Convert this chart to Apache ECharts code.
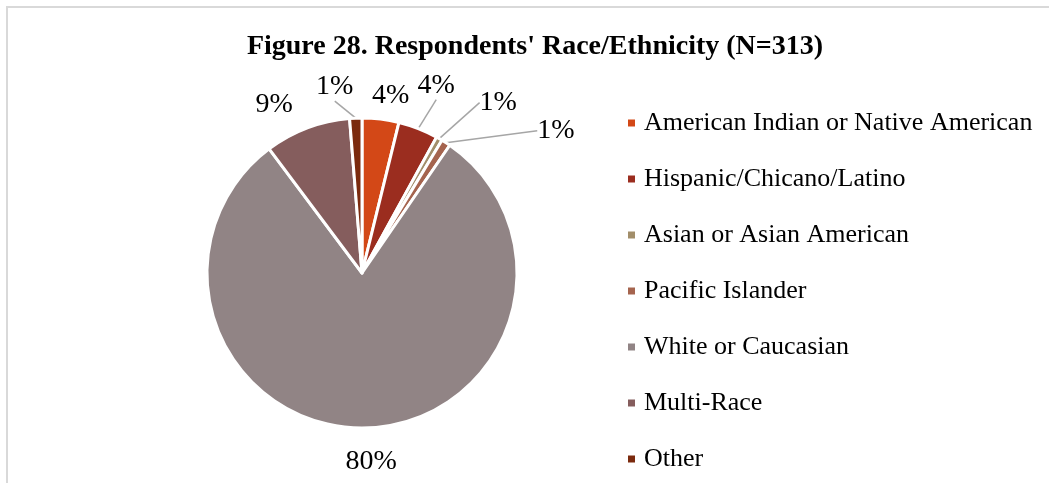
<!DOCTYPE html>
<html>
<head>
<meta charset="utf-8">
<script src="https://cdn.jsdelivr.net/npm/echarts@6/dist/echarts.min.js"></script>
<style>
html,body{margin:0;padding:0;background:#fff;}
#frame{position:absolute;left:6px;top:6px;width:1100px;height:600px;border-left:2px solid #d9d9d9;border-top:2px solid #d9d9d9;}
#chart{position:absolute;left:0;top:0;width:1049px;height:483px;}
</style>
</head>
<body>
<div id="frame"></div>
<div id="chart"></div>
<script>
const titleText = "Figure 28. Respondents' Race/Ethnicity (N=313)";
const categories = ["American Indian or Native American","Hispanic/Chicano/Latino","Asian or Asian American","Pacific Islander","White or Caucasian","Multi-Race","Other"];
const counts = [12, 13, 2, 3, 251, 28, 4];
const colors = ["#d34817","#9b2d1f","#a28e6a","#a5644e","#918485","#855d5d","#7b2a0e"];

// label placement style: offset of label centre from the slice's outer mid-point, and whether a leader line is drawn
const labelOffsets = [[10,-23],[18,-43],[59,-36],[110,-12],[6,34],[-33,-23],[-21,-31]];
const showLines = [false,true,true,true,false,false,true];

const total = counts.reduce((a,b)=>a+b,0);
const chart = echarts.init(document.getElementById('chart'), null, {renderer:'canvas'});
const font = "'Liberation Serif','Times New Roman',serif";
chart.setOption({
  animation:false,
  title:{text:titleText,left:530,top:28,textAlign:'center',
    textStyle:{fontFamily:font,fontWeight:'bold',fontSize:28,color:'#000'}},
  legend:{orient:'vertical',left:626,top:110,padding:0,itemWidth:9,itemHeight:9,itemGap:30,icon:'rect',
    textStyle:{fontFamily:font,fontSize:26,lineHeight:26,color:'#000',padding:[0,0,0,3]},
    data:categories},
  series:[{
    type:'pie',
    center:[362,273],
    radius:155,
    startAngle:90,
    clockwise:true,
    avoidLabelOverlap:false,
    itemStyle:{borderColor:'#fff',borderWidth:3},
    label:{show:true,position:'outside',fontFamily:font,fontSize:28,color:'#000',
      formatter:p=>Math.round(p.value/total*100)+'%'},
    labelLine:{show:true,length:10,length2:0,lineStyle:{color:'#a6a6a6',width:1.5}},
    labelLayout:function(p){
      const a = p.labelLinePoints ? p.labelLinePoints[0] : null;
      if(!a) return {};
      const o = labelOffsets[p.dataIndex];
      return {x:a[0]+o[0], y:a[1]+o[1], align:'center', verticalAlign:'middle'};
    },
    data:categories.map((c,i)=>({name:c,value:counts[i],itemStyle:{color:colors[i]},labelLine:{show:showLines[i]}}))
  }]
});
</script>
</body>
</html>
